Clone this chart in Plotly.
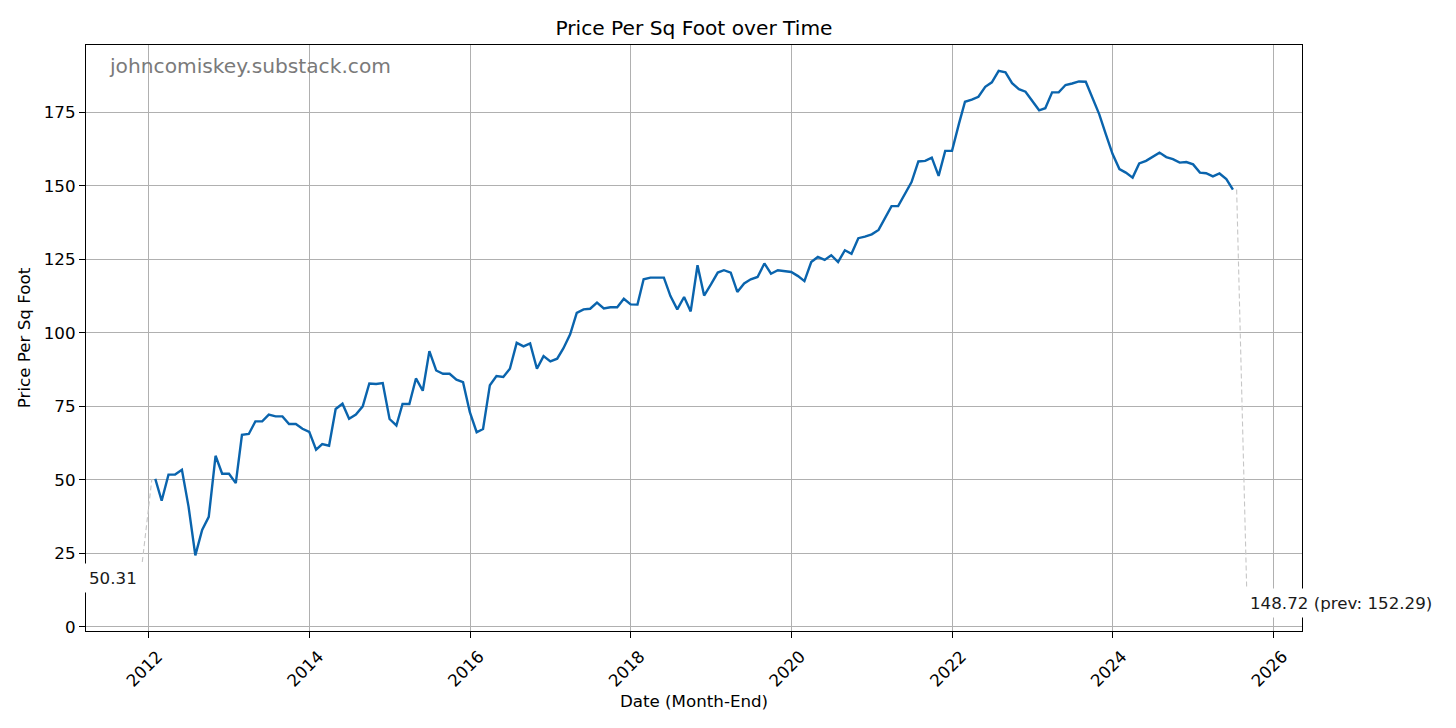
import pandas as pd
import plotly.graph_objects as go

# ---- data (monthly, month-end) ----
start_month = "2012-01-31"
price_per_sqft = [
    50.31, 42.9, 51.8, 51.8, 53.4, 41.0, 24.3, 33.0, 37.4, 58.2, 52.1, 52.1,
    48.9, 65.3, 65.6, 69.9, 69.9, 72.2, 71.6, 71.6, 69.0, 69.0, 67.4, 66.3,
    60.3, 62.2, 61.6, 74.1, 75.9, 70.8, 72.2, 75.0, 82.8, 82.6, 82.9, 70.7,
    68.5, 75.8, 75.8, 84.5, 80.3, 93.8, 87.2, 86.1, 86.1, 84.1, 83.2, 73.0,
    66.2, 67.3, 82.2, 85.3, 85.0, 87.8, 96.6, 95.4, 96.4, 87.8, 92.1, 90.3,
    91.2, 94.7, 99.5, 106.8, 108.0, 108.2, 110.3, 108.3, 108.7, 108.7, 111.6, 109.7,
    109.6, 118.2, 118.8, 118.8, 118.8, 112.5, 108.0, 112.2, 107.3, 123.0, 112.7, 116.5,
    120.5, 121.3, 120.5, 113.9, 116.8, 118.2, 119.0, 123.6, 120.1, 121.3, 121.0, 120.7,
    119.3, 117.6, 124.1, 125.8, 124.8, 126.4, 124.1, 128.1, 126.9, 132.2, 132.7, 133.5,
    135.0, 139.0, 143.1, 143.1, 147.4, 151.3, 158.3, 158.5, 159.6, 153.4, 161.9, 161.9,
    171.0, 178.6, 179.3, 180.3, 183.7, 185.2, 189.1, 188.6, 184.9, 182.9, 182.0, 178.9,
    175.7, 176.4, 181.8, 181.8, 184.3, 184.8, 185.5, 185.4, 179.7, 174.4, 167.6, 160.8,
    155.7, 154.5, 152.8, 157.6, 158.5, 159.8, 161.3, 159.8, 159.1, 157.9, 158.1, 157.3,
    154.5, 154.3, 153.2, 154.2, 152.29, 148.72,
]
y_ticks = [0, 25, 50, 75, 100, 125, 150, 175]
x_tick_years = [2012, 2014, 2016, 2018, 2020, 2022, 2024, 2026]

dates = pd.date_range(start=start_month, periods=len(price_per_sqft), freq="ME")

# ---- layout geometry ----
W, H = 1456, 728
M_L, M_R, M_T, M_B = 86, 154, 45, 97
plot_w = W - M_L - M_R
plot_h = H - M_T - M_B
x_range = [pd.Timestamp("2011-03-22"), pd.Timestamp("2026-05-10")]
y_range = [-1.4, 197.9]
days_per_px = (x_range[1] - x_range[0]).days / plot_w
units_per_px = (y_range[1] - y_range[0]) / plot_h


def offset(date, val, dx_px, dy_px_down):
    return (date + pd.Timedelta(days=dx_px * days_per_px),
            val - dy_px_down * units_per_px)


FONT = "DejaVu Sans"
LINE_COLOR = "#0a64ad"
LABEL_SIZE = 16.7
TITLE_SIZE = 20.2

fig = go.Figure()
fig.add_trace(go.Scatter(
    x=dates, y=price_per_sqft, mode="lines",
    line=dict(color=LINE_COLOR, width=2.4),
    hoverinfo="x+y", showlegend=False,
))

first_d, first_v = dates[0], price_per_sqft[0]
last_d, last_v = dates[-1], price_per_sqft[-1]
prev_v = price_per_sqft[-2]

# dashed leader lines
p1a = offset(first_d, first_v, -13, 83)
p1b = offset(first_d, first_v, -3.4, 0)
p2a = offset(last_d, last_v, 3.7, 0)
p2b = offset(last_d, last_v, 13.7, 397)
for a, b in [(p1a, p1b), (p2a, p2b)]:
    fig.add_trace(go.Scatter(
        x=[a[0], b[0]], y=[a[1], b[1]], mode="lines",
        line=dict(color="#c6c6c6", width=1.1, dash="5px,3px"),
        hoverinfo="skip", showlegend=False,
    ))

fig.add_annotation(
    x=first_d, y=first_v, xref="x", yref="y", text=f"{first_v:.2f}",
    showarrow=False, xanchor="center", yanchor="middle",
    xshift=-42, yshift=-99, bgcolor="white", borderpad=4,
    font=dict(family=FONT, size=LABEL_SIZE, color="#1a1a1a"),
)
fig.add_annotation(
    x=last_d, y=last_v, xref="x", yref="y",
    text=f"{last_v:.2f} (prev: {prev_v:.2f})",
    showarrow=False, xanchor="left", yanchor="middle",
    xshift=12, yshift=-413, bgcolor="white", borderpad=4,
    font=dict(family=FONT, size=LABEL_SIZE, color="#1a1a1a"),
)
fig.add_annotation(
    x=(107 - M_L) / plot_w, y=1 - (66 - M_T) / plot_h, xref="paper", yref="paper",
    text="johncomiskey.substack.com", showarrow=False,
    xanchor="left", yanchor="middle",
    font=dict(family=FONT, size=TITLE_SIZE, color="#7a7a7a"),
)

tick_dates = [pd.Timestamp(f"{y}-01-01") for y in x_tick_years]

fig.update_layout(
    width=W, height=H,
    margin=dict(l=M_L, r=M_R, t=M_T, b=M_B, autoexpand=False),
    paper_bgcolor="white", plot_bgcolor="white",
    font=dict(family=FONT, size=LABEL_SIZE, color="black"),
    title=dict(text="Price Per Sq Foot over Time", x=0.5, xref="paper",
               y=1 - 28 / H, yref="container", yanchor="middle",
               font=dict(family=FONT, size=TITLE_SIZE, color="black")),
    xaxis=dict(
        range=x_range, tickmode="array", tickvals=tick_dates,
        ticktext=[str(y) for y in x_tick_years],
        tickangle=-45, ticklabelshift=9, ticklabelstandoff=2,
        ticks="outside", ticklen=6, tickwidth=1.2, tickcolor="black",
        showline=True, linecolor="black", linewidth=1.2, mirror=True,
        showgrid=True, gridcolor="#b0b0b0", gridwidth=1.3, zeroline=False,
        title=dict(text="Date (Month-End)", standoff=4,
                   font=dict(family=FONT, size=LABEL_SIZE)),
    ),
    yaxis=dict(
        range=y_range, tickmode="array", tickvals=y_ticks,
        ticks="outside", ticklen=6, tickwidth=1.2, tickcolor="black",
        showline=True, linecolor="black", linewidth=1.2, mirror=True,
        showgrid=True, gridcolor="#b0b0b0", gridwidth=1.3, zeroline=False,
        title=dict(text="Price Per Sq Foot", standoff=8,
                   font=dict(family=FONT, size=LABEL_SIZE)),
    ),
)

fig.write_html(
    "out.html",
    config={"displayModeBar": False},
    post_script="document.body.style.margin='0';document.body.style.padding='0';",
)
